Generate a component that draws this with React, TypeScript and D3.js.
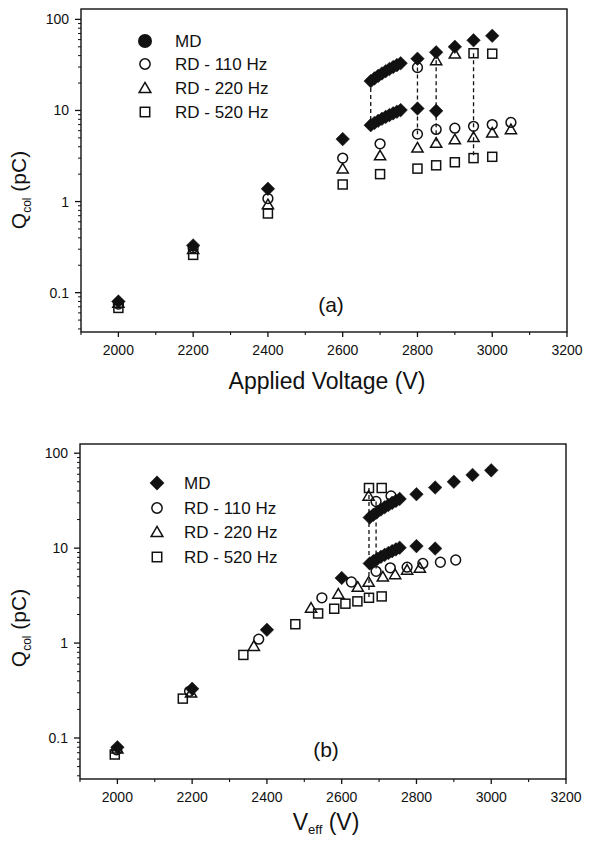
import React from 'react';
import * as d3 from 'd3';

// ---------- data ----------
const legendLabels = ['MD', 'RD - 110 Hz', 'RD - 220 Hz', 'RD - 520 Hz'];
const xTickValues = [2000, 2200, 2400, 2600, 2800, 3000, 3200];
const xMinorValues = [1900, 2100, 2300, 2500, 2700, 2900, 3100];
const yTickValues = [0.1, 1, 10, 100];
const yTickLabels = ['0.1', '1', '10', '100'];

// MD (same in both panels: V_eff = applied voltage)
const mdV = [2000, 2200, 2400, 2600,
  2675, 2685, 2695, 2705, 2715, 2725, 2735, 2745, 2755, 2800, 2850, 2900, 2950, 3000,
  2675, 2685, 2695, 2705, 2715, 2725, 2735, 2745, 2755, 2800, 2850];
const mdQ = [0.08, 0.33, 1.38, 4.85,
  21, 22.5, 24, 25.5, 27, 28.5, 30, 31.5, 33, 37, 43.5, 50, 59, 66,
  6.9, 7.3, 7.7, 8.1, 8.5, 8.9, 9.3, 9.7, 10.1, 10.5, 9.9];

// Panel (a): applied voltage
const rd110aV = [2000, 2200, 2400, 2600, 2700, 2800, 2800, 2850, 2900, 2950, 3000, 3050];
const rd110aQ = [0.075, 0.31, 1.08, 3.0, 4.3, 29.6, 5.5, 6.2, 6.4, 6.7, 7.0, 7.4];
const rd220aV = [2000, 2200, 2400, 2600, 2700, 2800, 2850, 2850, 2900, 2900, 2950, 3000, 3050];
const rd220aQ = [0.077, 0.30, 0.93, 2.3, 3.2, 3.9, 35.5, 4.4, 42, 4.8, 5.1, 5.7, 6.2];
const rd520aV = [2000, 2200, 2400, 2600, 2700, 2800, 2850, 2900, 2950, 2950, 3000, 3000];
const rd520aQ = [0.068, 0.26, 0.74, 1.54, 2.0, 2.3, 2.5, 2.7, 42.5, 3.0, 42, 3.1];
const jumpAV = [2675, 2800, 2850, 2950];
const jumpATop = [21, 29.6, 35.5, 42.5];
const jumpABottom = [6.9, 5.5, 4.4, 3.0];

// Panel (b): effective voltage
const rd110bV = [1998, 2193, 2378, 2547, 2626, 2692, 2692, 2730, 2732, 2775, 2817, 2864, 2905];
const rd110bQ = [0.075, 0.31, 1.1, 3.0, 4.4, 31, 5.7, 6.2, 35.5, 6.3, 6.9, 7.1, 7.5];
const rd220bV = [2000, 2197, 2365, 2518, 2591, 2643, 2672, 2672, 2710, 2743, 2775, 2809];
const rd220bQ = [0.077, 0.30, 0.93, 2.35, 3.3, 3.9, 35.5, 4.4, 5.0, 5.3, 5.9, 6.2];
const rd520bV = [1993, 2175, 2337, 2476, 2537, 2580, 2610, 2642, 2673, 2673, 2707, 2707];
const rd520bQ = [0.067, 0.26, 0.75, 1.58, 2.05, 2.3, 2.6, 2.75, 43, 3.0, 43, 3.1];
const jumpBV = [2673, 2692];
const jumpBTop = [43, 31];
const jumpBBottom = [3.0, 5.7];

// ---------- helpers ----------
const FONT = "'Liberation Sans', Arial, Helvetica, sans-serif";
const INK = '#111';

type Kind = 'diamond' | 'circle' | 'triangle' | 'square' | 'dot';

function Marker({ kind, x, y, s = 1 }: { kind: Kind; x: number; y: number; s?: number }) {
  const sw = 1.5;
  if (kind === 'diamond') {
    const r = 6.8 * s;
    return <path d={`M${x},${y - r}L${x + r},${y}L${x},${y + r}L${x - r},${y}Z`} fill={INK} stroke={INK} strokeWidth={0.5} />;
  }
  if (kind === 'dot') {
    return <circle cx={x} cy={y} r={7 * s} fill={INK} />;
  }
  if (kind === 'circle') {
    return <circle cx={x} cy={y} r={4.9 * s} fill="none" stroke={INK} strokeWidth={sw} />;
  }
  if (kind === 'triangle') {
    const w = 5.6 * s, h = 9.6 * s;
    return <path d={`M${x},${y - h * 0.55}L${x + w},${y + h * 0.45}L${x - w},${y + h * 0.45}Z`} fill="none" stroke={INK} strokeWidth={sw} strokeLinejoin="miter" />;
  }
  const a = 4.5 * s;
  return <rect x={x - a} y={y - a} width={2 * a} height={2 * a} fill="none" stroke={INK} strokeWidth={sw} />;
}

interface PanelProps {
  left: number; right: number; top: number; bottom: number;
  yMax: number;
  series: { kind: Kind; v: number[]; q: number[] }[];
  jumpV: number[]; jumpTop: number[]; jumpBottom: number[];
  legendX: number; legendTextX: number; legendY: number[]; legendKinds: Kind[];
  letter: string; letterX: number; letterY: number;
  xTitle: React.ReactNode; xTitleY: number;
  yTitleY: number;
}

function Panel(p: PanelProps) {
  const x = d3.scaleLinear().domain([1900, 3200]).range([p.left, p.right]);
  const y = d3.scaleLog().domain([0.037, p.yMax]).range([p.bottom, p.top]);
  const yMinor: number[] = [];
  [0.01, 0.1, 1, 10, 100].forEach((d) => {
    for (let k = 2; k <= 9; k++) {
      const v = d * k;
      if (v >= 0.037 && v <= p.yMax) yMinor.push(v);
    }
  });
  return (
    <g>
      {/* dashed transitions */}
      {p.jumpV.map((v, i) => (
        <line key={'j' + i} x1={x(v)} x2={x(v)} y1={y(p.jumpTop[i])} y2={y(p.jumpBottom[i])}
          stroke={INK} strokeWidth={1.3} strokeDasharray="4 3" />
      ))}
      {/* data */}
      {p.series.map((s, si) => (
        <g key={'s' + si}>
          {s.v.map((v, i) => <Marker key={i} kind={s.kind} x={x(v)} y={y(s.q[i])} />)}
        </g>
      ))}
      {/* frame */}
      <rect x={p.left} y={p.top} width={p.right - p.left} height={p.bottom - p.top} fill="none" stroke={INK} strokeWidth={1.4} />
      {/* x ticks */}
      {xTickValues.map((v) => (
        <g key={'xt' + v}>
          <line x1={x(v)} x2={x(v)} y1={p.bottom} y2={p.bottom + 5} stroke={INK} strokeWidth={1.3} />
          <text x={x(v)} y={p.bottom + 23} textAnchor="middle" fontSize={14} fontFamily={FONT} fill={INK}>{v}</text>
        </g>
      ))}
      {xMinorValues.map((v) => (
        <line key={'xm' + v} x1={x(v)} x2={x(v)} y1={p.bottom} y2={p.bottom + 3} stroke={INK} strokeWidth={1.1} />
      ))}
      {/* y ticks */}
      {yTickValues.map((v, i) => (
        <g key={'yt' + v}>
          <line x1={p.left - 6} x2={p.left} y1={y(v)} y2={y(v)} stroke={INK} strokeWidth={1.3} />
          <text x={p.left - 12} y={y(v) + 5} textAnchor="end" fontSize={14} fontFamily={FONT} fill={INK}>{yTickLabels[i]}</text>
        </g>
      ))}
      {yMinor.map((v, i) => (
        <line key={'ym' + i} x1={p.left - 3} x2={p.left} y1={y(v)} y2={y(v)} stroke={INK} strokeWidth={1} />
      ))}
      {/* legend */}
      {legendLabels.map((l, i) => (
        <g key={'lg' + i}>
          <Marker kind={p.legendKinds[i]} x={p.legendX} y={p.legendY[i]} s={p.legendKinds[i] === 'dot' ? 1 : 1.05} />
          <text x={p.legendTextX} y={p.legendY[i] + 6} fontSize={17} fontFamily={FONT} fill={INK}>{l}</text>
        </g>
      ))}
      {/* panel letter */}
      <text x={p.letterX} y={p.letterY} textAnchor="middle" fontSize={21} fontFamily={FONT} fill={INK}>{p.letter}</text>
      {/* axis titles */}
      <text x={(p.left + p.right) / 2 + 3} y={p.xTitleY} textAnchor="middle" fontSize={23} fontFamily={FONT} fill={INK}>{p.xTitle}</text>
      <text transform={`translate(26,${p.yTitleY}) rotate(-90)`} textAnchor="middle" fontSize={21} fontFamily={FONT} fill={INK}>
        Q<tspan fontSize={12} dy={5}>col</tspan><tspan dy={-5}> (pC)</tspan>
      </text>
    </g>
  );
}

export default function App() {
  return (
    <svg width={589} height={841} viewBox="0 0 589 841" style={{ display: 'block', position: 'absolute', left: 0, top: 0, background: '#fff' }}>
      <rect width={589} height={841} fill="#fff" />
      <Panel
        left={81} right={567} top={9} bottom={332} yMax={130}
        series={[
          { kind: 'diamond', v: mdV, q: mdQ },
          { kind: 'circle', v: rd110aV, q: rd110aQ },
          { kind: 'triangle', v: rd220aV, q: rd220aQ },
          { kind: 'square', v: rd520aV, q: rd520aQ },
        ]}
        jumpV={jumpAV} jumpTop={jumpATop} jumpBottom={jumpABottom}
        legendX={145} legendTextX={175} legendY={[41, 64, 88, 112]}
        legendKinds={['dot', 'circle', 'triangle', 'square']}
        letter="(a)" letterX={331} letterY={312}
        xTitle="Applied Voltage (V)" xTitleY={389}
        yTitleY={190}
      />
      <Panel
        left={80} right={566} top={444} bottom={779} yMax={125}
        series={[
          { kind: 'diamond', v: mdV, q: mdQ },
          { kind: 'circle', v: rd110bV, q: rd110bQ },
          { kind: 'triangle', v: rd220bV, q: rd220bQ },
          { kind: 'square', v: rd520bV, q: rd520bQ },
        ]}
        jumpV={jumpBV} jumpTop={jumpBTop} jumpBottom={jumpBBottom}
        legendX={157} legendTextX={184} legendY={[483, 508, 532, 557]}
        legendKinds={['diamond', 'circle', 'triangle', 'square']}
        letter="(b)" letterX={326} letterY={757}
        xTitle={<>V<tspan fontSize={13} dy={4}>eff</tspan><tspan dy={-4}> (V)</tspan></>} xTitleY={830}
        yTitleY={628}
      />
    </svg>
  );
}
